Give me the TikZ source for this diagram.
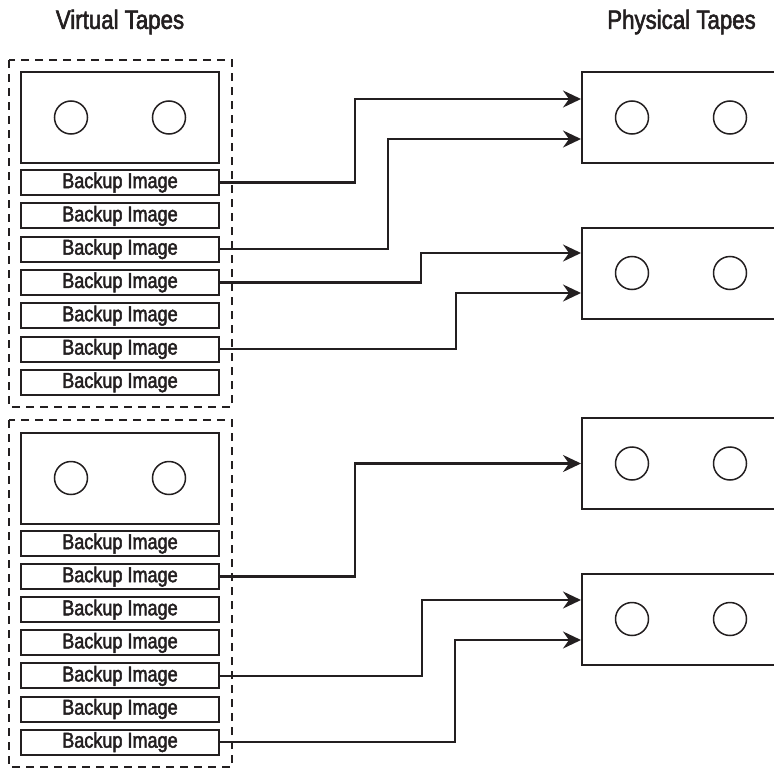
\documentclass[tikz,border=0pt]{standalone}
\usepackage{fontspec}
\setmainfont{Liberation Sans}[FakeStretch=0.84, FakeBold=2.2]
\usepackage{tikz}
\usetikzlibrary{arrows.meta, positioning, calc}
\definecolor{ink}{RGB}{35, 31, 32}

\begin{document}
\begin{tikzpicture}[
          x=1pt, y=-1pt,
          tape/.style={draw=ink, line width=2pt, minimum width=198pt, minimum height=91pt, inner sep=0pt},
          reel/.style={draw=ink, line width=1.5pt, circle, minimum size=33pt, inner sep=0pt},
          backup/.style={draw=ink, line width=2pt, minimum width=198pt, minimum height=25pt,
                         inner sep=0pt, font=\fontsize{21.5}{22}\selectfont, text=ink},
          group/.style={draw=ink, line width=1.6pt, dash pattern=on 8pt off 6pt},
          title/.style={font=\fontsize{26.5}{28}\selectfont, text=ink},
          arr/.style={-{Stealth[length=18pt, width=17pt, inset=6pt]}, line width=2.3pt, color=ink},
        ]
        \useasboundingbox (0,0) rectangle (774,768);
        \node[title] (vtitle) at (120,22) {Virtual Tapes};
        \node[title] (ptitle) at (681.5,22) {Physical Tapes};
        % virtual tapes
        \draw[group] (9,60) rectangle (232,407);
        \draw[group] (9,420) rectangle (232,767);
        \node[tape] (v1) at (120,117.5) {};
        \node[tape] (v2) at (120,478) {};
        \foreach \i in {1,...,7} {
          \node[backup] (a\i) at (120,{182.5+33.3*(\i-1)}) {Backup Image};
          \node[backup] (b\i) at (120,{543.5+33.1*(\i-1)}) {Backup Image};
        }
        % physical tapes
        \node[tape] (p1) at (681,117.5) {};
        \node[tape] (p2) at (681,273) {};
        \node[tape] (p3) at (681,463.5) {};
        \node[tape] (p4) at (681,619) {};
        \foreach \t in {v1,v2,p1,p2,p3,p4} {
          \node[reel] at ([xshift=-49pt]\t.center) {};
          \node[reel] at ([xshift=49pt]\t.center) {};
        }
        % connectors
        \draw[arr] (a1.east) -- ++(135,0) |- ([yshift=18.5pt]p1.west);
        \draw[arr] (a3.east) -- ++(168,0) |- ([yshift=-21.5pt]p1.west);
        \draw[arr] (a4.east) -- ++(201,0) |- ([yshift=20pt]p2.west);
        \draw[arr] (a6.east) -- ++(236,0) |- ([yshift=-20pt]p2.west);
        \draw[arr] (b2.east) -- ++(135,0) |- (p3.west);
        \draw[arr] (b5.east) -- ++(202,0) |- ([yshift=19pt]p4.west);
        \draw[arr] (b7.east) -- ++(235,0) |- ([yshift=-21pt]p4.west);
      \end{tikzpicture}
\end{document}
